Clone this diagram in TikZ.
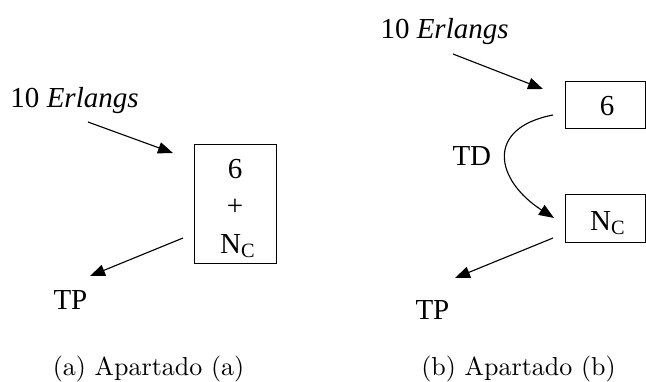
\documentclass[tikz,border=0pt]{standalone}
\usepackage{fontspec}
\newfontfamily\tms{Liberation Serif}
\usetikzlibrary{arrows.meta}
\begin{document}
\begin{tikzpicture}[x=0.4pt,y=-0.4pt,
  lbl/.style={font=\tms\fontsize{11.6pt}{13pt}\selectfont, inner sep=0pt, anchor=base},
  lblw/.style={lbl, anchor=base west},
  captext/.style={font=\fontsize{10.4pt}{12pt}\selectfont, inner sep=0pt, anchor=base},
  box/.style={draw, line width=0.4pt, inner sep=0pt},
  arr/.style={line width=0.45pt, -{Triangle[length=6pt,width=4.6pt]}}]
\useasboundingbox (0,0) rectangle (646,381);
% ---------- (a) ----------
\node[lblw] (erla) at (10,107) {10 \textit{Erlangs}};
\node[box, minimum width=32.8pt, minimum height=47.6pt] (boxa) at (235,203.5) {};
\node[lbl] (sixa) at (235,178) {6};
\node[lbl] (plusa) at (235,215) {+};
\node[lbl] (nca) at (238,253) {N\textsubscript{C}};
\node[lblw] (tpa) at (53,309) {TP};
\coordinate (ea1) at (88,122);
\coordinate (ea2) at (173,153);
\coordinate (ta1) at (183,238);
\coordinate (ta2) at (90,276);
\draw[arr] (ea1) -- (ea2);
\draw[arr] (ta1) -- (ta2);
\node[captext] (capa) at (148.5,375) {(a) Apartado (a)};
% ---------- (b) ----------
\node[lblw] (erlb) at (380,38) {10 \textit{Erlangs}};
\node[box, minimum width=32pt, minimum height=18.8pt] (six) at (605,104.5) {};
\node[lbl] (sixt) at (607,115) {6};
\node[box, minimum width=32pt, minimum height=19.2pt] (nc) at (605,218) {};
\node[lbl] (nct) at (608,230) {N\textsubscript{C}};
\node[lblw] (td) at (452,165) {TD};
\node[lblw] (tpb) at (415,319) {TP};
\coordinate (eb1) at (453,54);
\coordinate (eb2) at (543,89);
\coordinate (cb1) at (553,115);
\coordinate (cb2) at (554,218);
\coordinate (tb1) at (553,238);
\coordinate (tb2) at (455,278);
\draw[arr] (eb1) -- (eb2);
\draw[arr] (cb1) .. controls (485,128) and (495,180) .. (cb2);
\draw[arr] (tb1) -- (tb2);
\node[captext] (capb) at (518.5,375) {(b) Apartado (b)};
\end{tikzpicture}
\end{document}
